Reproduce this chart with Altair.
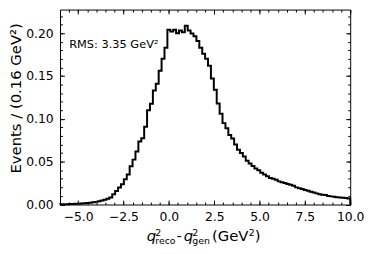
import altair as alt
import pandas as pd

FONT = "DejaVu Sans"

# ---- data ----
x_start = -6.0
bin_width = 0.16
events = [
    0.0002, 0.0003, 0.0004, 0.0005, 0.0007, 0.0008, 0.0010, 0.0012, 0.0014, 0.0017,
    0.0021, 0.0026, 0.0031, 0.0038, 0.0046, 0.0055, 0.0068, 0.0083, 0.0121, 0.0159,
    0.0198, 0.0236, 0.0294, 0.0351, 0.0447, 0.0524, 0.0620, 0.0735, 0.0774, 0.0908,
    0.1100, 0.1177, 0.1330, 0.1410, 0.1560, 0.1700, 0.1830, 0.2040, 0.2020, 0.2040,
    0.2000, 0.2030, 0.2010, 0.2085, 0.2030, 0.1995, 0.1964, 0.1907, 0.1830, 0.1760,
    0.1700, 0.1620, 0.1470, 0.1340, 0.1180, 0.1060, 0.0950, 0.0890, 0.0810, 0.0770,
    0.0700, 0.0640, 0.0600, 0.0560, 0.0510, 0.0480, 0.0450, 0.0420, 0.0400, 0.0370,
    0.0350, 0.0330, 0.0310, 0.0300, 0.0290, 0.0270, 0.0260, 0.0250, 0.0240, 0.0230,
    0.0220, 0.0200, 0.0190, 0.0180, 0.0170, 0.0160, 0.0150, 0.0140, 0.0130, 0.0120,
    0.0115, 0.0110, 0.0100, 0.0095, 0.0090, 0.0086, 0.0082, 0.0078, 0.0075, 0.0070,
]
x_major = [-5.0, -2.5, 0.0, 2.5, 5.0, 7.5, 10.0]
x_minor = [-6.0, -5.5, -5.0, -4.5, -4.0, -3.5, -3.0, -2.5, -2.0, -1.5, -1.0, -0.5,
           0.0, 0.5, 1.0, 1.5, 2.0, 2.5, 3.0, 3.5, 4.0, 4.5, 5.0, 5.5, 6.0, 6.5,
           7.0, 7.5, 8.0, 8.5, 9.0, 9.5, 10.0]
y_major = [0.00, 0.05, 0.10, 0.15, 0.20]
y_minor = [0.00, 0.01, 0.02, 0.03, 0.04, 0.05, 0.06, 0.07, 0.08, 0.09, 0.10, 0.11,
           0.12, 0.13, 0.14, 0.15, 0.16, 0.17, 0.18, 0.19, 0.20, 0.21, 0.22]
x_domain = [-6.0, 10.0]
y_domain = [0.0, 0.2275]
rms_text = "RMS: 3.35 GeV²"
y_title = "Events / (0.16 GeV²)"

# step outline: closed at both ends like a matplotlib 'step' histogram
edges = [x_start + bin_width * i for i in range(len(events) + 1)]
xs = [edges[0]] + edges[:-1] + [edges[-1], edges[-1]]
ys = [0.0] + events + [events[-1], 0.0]
df = pd.DataFrame({"x": xs, "y": ys, "k": list(range(len(xs)))})

W, H = 294, 197.5
MAJ, MIN = 4.5, 2.5
SCRIPT = 9.5


def axis(orient, values, size, labels=False, fmt=None, pad=0):
    kw = dict(orient=orient, values=values, tickSize=size, offset=-size,
              domain=False, grid=False, labels=labels, title=None, ticks=True,
              tickColor="black", tickWidth=1)
    if labels:
        kw.update(format=fmt, labelFont=FONT, labelFontSize=12.5,
                  labelColor="black", labelPadding=pad, labelFlush=False,
                  labelOverlap=False)
    return alt.Axis(**kw)


def hist_layer(xax, yax, visible):
    return alt.Chart(df).mark_line(
        interpolate="step-after", color="black", strokeWidth=2,
        opacity=1 if visible else 0,
    ).encode(
        x=alt.X("x:Q", scale=alt.Scale(domain=x_domain, nice=False, zero=False), axis=xax),
        y=alt.Y("y:Q", scale=alt.Scale(domain=y_domain, nice=False, zero=False), axis=yax),
        order="k:Q",
    )


def txt(s, x, y, size, style="normal", align="left", angle=0, baseline="alphabetic"):
    return alt.Chart(alt.Data(values=[{"t": s}])).mark_text(
        text=s, font=FONT, fontSize=size, fontStyle=style, align=align,
        baseline=baseline, angle=angle, color="black",
    ).encode(x=alt.value(x), y=alt.value(y))


layers = [
    hist_layer(axis("bottom", x_minor, MIN), axis("left", y_minor, MIN), False),
    hist_layer(axis("top", x_major, MAJ), axis("right", y_major, MAJ), False),
    hist_layer(axis("top", x_minor, MIN), axis("right", y_minor, MIN), False),
    hist_layer(axis("bottom", x_major, MAJ, True, ".1f", 6.5),
               axis("left", y_major, MAJ, True, ".2f", 7), True),
    # annotation
    txt(rms_text, 9.3, 38.5, 11.5),
    # y title
    txt(y_title, -45.0, 90, 15, angle=270, align="center", baseline="middle"),
    # x title: q^2_reco - q^2_gen (GeV^2)
    txt("q", 87.8, 234, 15, style="italic"),
    txt("2", 96.5, 229.3, SCRIPT),
    txt("reco", 96.5, 237.4, SCRIPT),
    txt("-", 120.8, 234, 15, align="center"),
    txt("q", 125.3, 234, 15, style="italic"),
    txt("2", 134.0, 229.3, SCRIPT),
    txt("gen", 134.0, 237.4, SCRIPT),
    txt("(GeV", 154.0, 234, 15),
    txt("2", 191.1, 229.3, SCRIPT),
    txt(")", 197.4, 234, 15),
]

chart = alt.layer(*layers).resolve_scale(
    x="independent", y="independent"
).properties(
    width=W, height=H,
    autosize=alt.AutoSizeParams(type="none"),
    padding={"left": 52.7, "top": 0, "right": 16, "bottom": 46},
).configure_view(stroke="black", strokeWidth=1)

chart.save("out.html", embed_options={"renderer": "svg", "actions": False})
